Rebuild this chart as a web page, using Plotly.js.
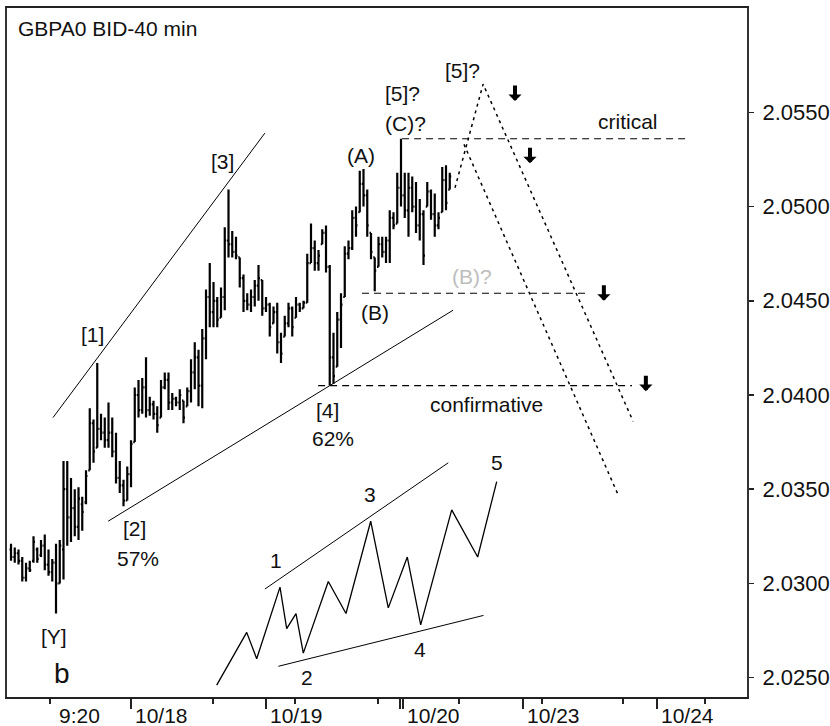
<!DOCTYPE html>
<html><head><meta charset="utf-8">
<script src="https://cdn.plot.ly/plotly-3.0.1.min.js"></script>
<style>html,body{margin:0;padding:0;background:#fff;}#chart{width:830px;height:726px;}</style>
</head><body><div id="chart"></div>
<script>
// 40-minute bars (time in bar units, 10/18 00:00 = 0, one day = 36 bars)
const barTime = [-32,-31,-30,-29,-28,-27,-26,-25,-24,-23,-22,-21,-20,-19,-18,-17,-16,-15,-14,-13,-12,-11,-10,-9,-8,-7,-6,-5,-4,-3,-2,-1,
  0,1,2,3,4,5,6,7,8,9,10,11,12,13,14,15,16,17,18,19,20,21,22,23,24,25,26,27,28,29,30,31,32,33,34,35,36,37,38,39,40,
  41,42,43,44,45,46,47,48,49,50,51,52,53,54,55,56,57,58,59,60,61,62,63,64,65,66,67,68,69,70,71,72,73,74,75,76,77,78,79,80,81,82,83,84,85];
const barOpen = [2.0318,2.0314,2.0316,2.0312,2.0303,2.0308,2.0312,2.0318,2.0315,2.0320,2.0310,2.0306,2.0311,2.0300,2.0318,2.0350,2.0335,2.0340,2.0330,2.0342,2.0343,2.0360,2.0385,2.0372,2.0382,2.0380,2.0376,2.0380,2.0370,2.0356,2.0352,2.0344,
  2.0358,2.0375,2.0400,2.0392,2.0404,2.0392,2.0395,2.0390,2.0388,2.0404,2.0408,2.0396,2.0398,2.0396,2.0397,2.0394,2.0402,2.0412,2.0420,2.0405,2.0430,2.0452,2.0444,2.0450,2.0441,2.0452,2.0482,2.0480,2.0476,2.0473,2.0462,2.0450,2.0448,2.0452,2.0458,2.0461,2.0446,2.0448,2.0438,2.0444,2.0428,
  2.0431,2.0438,2.0446,2.0441,2.0448,2.0446,2.0449,2.0470,2.0478,2.0470,2.0480,2.0486,2.0468,2.0420,2.0415,2.0440,2.0452,2.0475,2.0478,2.0494,2.0497,2.0512,2.0506,2.0486,2.0473,2.0468,2.0480,2.0476,2.0482,2.0494,2.0491,2.0510,2.0506,2.0498,2.0510,2.0500,2.0490,2.0496,2.0500,2.0508,2.0496,2.0490,2.0497,2.0514,2.0509];
const barHigh = [2.0321,2.0319,2.0318,2.0314,2.0311,2.0312,2.0325,2.0319,2.0323,2.0326,2.0318,2.0313,2.0321,2.0323,2.0365,2.0365,2.0356,2.0350,2.0351,2.0346,2.0360,2.0393,2.0387,2.0417,2.0390,2.0388,2.0396,2.0388,2.0380,2.0365,2.0355,2.0362,
  2.0376,2.0404,2.0408,2.0409,2.0420,2.0399,2.0397,2.0394,2.0408,2.0412,2.0412,2.0401,2.0399,2.0403,2.0397,2.0404,2.0419,2.0428,2.0424,2.0435,2.0456,2.0470,2.0460,2.0452,2.0457,2.0489,2.0509,2.0487,2.0484,2.0473,2.0464,2.0454,2.0456,2.0461,2.0469,2.0461,2.0452,2.0449,2.0447,2.0449,2.0433,
  2.0442,2.0449,2.0447,2.0452,2.0449,2.0450,2.0475,2.0491,2.0482,2.0477,2.0488,2.0490,2.0469,2.0433,2.0444,2.0454,2.0479,2.0482,2.0498,2.0500,2.0519,2.0520,2.0509,2.0486,2.0473,2.0484,2.0484,2.0484,2.0498,2.0497,2.0518,2.0536,2.0518,2.0518,2.0516,2.0513,2.0504,2.0498,2.0513,2.0509,2.0507,2.0497,2.0521,2.0522,2.0518];
const barLow = [2.0312,2.0311,2.0310,2.0301,2.0301,2.0306,2.0311,2.0311,2.0314,2.0307,2.0304,2.0301,2.0284,2.0300,2.0302,2.0320,2.0322,2.0325,2.0323,2.0328,2.0342,2.0360,2.0364,2.0372,2.0376,2.0372,2.0372,2.0367,2.0353,2.0348,2.0341,2.0344,
  2.0351,2.0375,2.0388,2.0390,2.0388,2.0389,2.0387,2.0380,2.0388,2.0403,2.0392,2.0392,2.0394,2.0392,2.0385,2.0394,2.0396,2.0403,2.0394,2.0393,2.0419,2.0436,2.0436,2.0436,2.0441,2.0445,2.0473,2.0473,2.0472,2.0457,2.0444,2.0445,2.0444,2.0447,2.0450,2.0442,2.0444,2.0431,2.0438,2.0422,2.0417,
  2.0431,2.0436,2.0431,2.0441,2.0444,2.0446,2.0449,2.0470,2.0466,2.0466,2.0480,2.0465,2.0405,2.0406,2.0415,2.0425,2.0452,2.0472,2.0477,2.0484,2.0497,2.0500,2.0484,2.0472,2.0455,2.0468,2.0473,2.0470,2.0470,2.0488,2.0491,2.0500,2.0494,2.0484,2.0497,2.0486,2.0482,2.0469,2.0500,2.0493,2.0484,2.0488,2.0497,2.0498,2.0509];
const barClose = [2.0314,2.0316,2.0312,2.0303,2.0308,2.0307,2.0322,2.0313,2.0320,2.0310,2.0306,2.0311,2.0300,2.0320,2.0350,2.0335,2.0340,2.0330,2.0345,2.0338,2.0357,2.0385,2.0370,2.0382,2.0380,2.0376,2.0380,2.0370,2.0356,2.0352,2.0344,2.0358,
  2.0374,2.0400,2.0392,2.0404,2.0392,2.0395,2.0390,2.0384,2.0404,2.0408,2.0396,2.0398,2.0396,2.0400,2.0388,2.0402,2.0412,2.0420,2.0405,2.0430,2.0452,2.0444,2.0450,2.0440,2.0452,2.0482,2.0480,2.0476,2.0474,2.0462,2.0450,2.0448,2.0452,2.0458,2.0462,2.0446,2.0448,2.0436,2.0444,2.0428,2.0422,
  2.0438,2.0446,2.0436,2.0448,2.0446,2.0449,2.0470,2.0478,2.0470,2.0474,2.0486,2.0468,2.0420,2.0410,2.0440,2.0448,2.0475,2.0478,2.0494,2.0490,2.0512,2.0506,2.0490,2.0476,2.0466,2.0480,2.0476,2.0482,2.0494,2.0490,2.0510,2.0506,2.0498,2.0510,2.0500,2.0490,2.0496,2.0474,2.0508,2.0496,2.0490,2.0494,2.0514,2.0502,2.0516];

// x axis ticks
const dayTickTimes = [0, 36, 71.7, 72.5, 104.5, 140.3];
const hourTickTimes = [-21.6, 21.9, 43.7, 65.9, 87.5, 109.6, 131.2, 153.1];
const tickLabels = ['9:20', '10/18', '10/19', '10/20', '10/23', '10/24'];
const tickLabelTimes = [-20.4, 0, 36, 72.5, 104.5, 140.3];
const priceTicks = [2.0250, 2.0300, 2.0350, 2.0400, 2.0450, 2.0500, 2.0550];

// trend channel lines
const upperChannelT = [-20.8, 35.7];
const upperChannelP = [2.0388, 2.0539];
const lowerChannelT = [-6.1, 85.9];
const lowerChannelP = [2.0333, 2.0445];

// horizontal levels
const criticalT = [72.3, 149.0];
const criticalP = [2.0536, 2.0536];
const levelBT = [61.6, 122.4];
const levelBP = [2.0454, 2.0454];
const confirmT = [49.9, 133.6];
const confirmP = [2.0405, 2.0405];

// projected paths
const proj1T = [86.4, 93.9, 133.9];
const proj1P = [2.0510, 2.0565, 2.0386];
const proj2T = [88.8, 129.9];
const proj2P = [2.0533, 2.0347];

// ending diagonal schematic
const waveT = [22.85, 30.85, 33.52, 39.73, 41.52, 44.0, 45.95, 52.61, 57.33, 63.92, 68.61, 73.68, 77.25, 85.52, 92.45, 97.52];
const waveP = [2.0246, 2.0274, 2.0260, 2.0298, 2.0276, 2.0284, 2.0263, 2.0301, 2.0284, 2.0333, 2.0287, 2.0314, 2.0278, 2.0339, 2.0314, 2.0354];
const wedgeUpperT = [35.7, 84.6];
const wedgeUpperP = [2.0297, 2.0364];
const wedgeLowerT = [39.3, 94.0];
const wedgeLowerP = [2.0256, 2.0283];

// wave labels
const labelTexts = ['[1]','[3]','[2]','57%','[Y]','[4]','62%','(A)','(B)','(C)?','[5]?','[5]?','critical','confirmative','1','2','3','4','5'];
const labelT = [-10.4, 24.3, 0.8, 1.9, -20.5, 52.3, 53.9, 61.3, 65.1, 73.3, 72.5, 88.3, 132.5, 94.8, 38.7, 46.9, 63.7, 77.1, 97.6];
const labelP = [2.0432, 2.0524, 2.0329, 2.0313, 2.0272, 2.0392, 2.0377, 2.0527, 2.0444, 2.0544, 2.0560, 2.0572, 2.0545, 2.0395, 2.0312, 2.0250, 2.0347, 2.0265, 2.0364];
const grayLabelText = '(B)?';
const grayLabelT = 90.9;
const grayLabelP = 2.0463;
const bigLabelText = 'b';
const bigLabelT = -18.4;
const bigLabelP = 2.0252;

// sell arrows (tip positions)
const arrowT = [102.4, 106.4, 126.1, 137.3];
const arrowP = [2.0556, 2.0523, 2.0450, 2.0402];

const FONT = 'Liberation Sans, Arial, sans-serif';
const INK = '#111';

function line(t, p, width, dash) {
  return {type:'scatter', mode:'lines', x:t, y:p, hoverinfo:'skip', showlegend:false,
          line:{color:'#000', width:width, dash:dash || 'solid'}};
}

const traces = [
  {type:'ohlc', x:barTime, open:barOpen, high:barHigh, low:barLow, close:barClose,
   increasing:{line:{color:'#000', width:2.2}}, decreasing:{line:{color:'#000', width:2.2}},
   tickwidth:0.4, hoverinfo:'skip', showlegend:false},
  line(upperChannelT, upperChannelP, 1),
  line(lowerChannelT, lowerChannelP, 1),
  line(criticalT, criticalP, 1.2, '7px,5px'),
  line(levelBT, levelBP, 1.2, '7px,5px'),
  line(confirmT, confirmP, 1.2, '7px,5px'),
  line(proj1T, proj1P, 1.5, '3px,4px'),
  line(proj2T, proj2P, 1.5, '3px,4px'),
  line(waveT, waveP, 1.3),
  line(wedgeUpperT, wedgeUpperP, 1),
  line(wedgeLowerT, wedgeLowerP, 1)
];

const annotations = [];
labelTexts.forEach((txt, i) => {
  annotations.push({x:labelT[i], y:labelP[i], xref:'x', yref:'y', text:txt, showarrow:false,
    xanchor:'center', yanchor:'middle', font:{family:FONT, size:21, color:INK}});
});
annotations.push({x:grayLabelT, y:grayLabelP, xref:'x', yref:'y', text:grayLabelText, showarrow:false,
  font:{family:FONT, size:21, color:'#bdbdbd'}});
annotations.push({x:bigLabelT, y:bigLabelP, xref:'x', yref:'y', text:bigLabelText, showarrow:false,
  font:{family:FONT, size:28, color:INK}});
arrowT.forEach((t, i) => {
  annotations.push({x:t, y:arrowP[i], xref:'x', yref:'y', text:'', showarrow:true,
    arrowhead:1, arrowsize:0.55, arrowwidth:4, arrowcolor:'#000', ax:0, ay:-17, standoff:0});
});
tickLabels.forEach((txt, i) => {
  annotations.push({x:tickLabelTimes[i], y:0, xref:'x', yref:'paper', text:txt, showarrow:false,
    xanchor:'left', yanchor:'middle', yshift:-18, xshift:2, font:{family:FONT, size:21, color:INK}});
});

const layout = {
  width:830, height:726,
  margin:{l:7, r:83, t:8, b:29, pad:0},
  paper_bgcolor:'#fff', plot_bgcolor:'#fff',
  showlegend:false,
  title:{text:'GBPA0 BID-40 min', font:{family:FONT, size:21, color:INK},
         xref:'paper', x:0.0149, xanchor:'left', yref:'paper', y:0.9695, yanchor:'middle'},
  xaxis:{range:[-33.07, 164.27], showgrid:false, zeroline:false, fixedrange:true,
         showline:true, mirror:true, linecolor:'#222', linewidth:2,
         tickmode:'array', tickvals:dayTickTimes, ticks:'outside', ticklen:10, tickwidth:1.5, tickcolor:'#222',
         showticklabels:false,
         minor:{tickmode:'array', tickvals:hourTickTimes, ticks:'outside', ticklen:5, tickwidth:1.5, tickcolor:'#222', showgrid:false},
         rangeslider:{visible:false}},
  yaxis:{range:[2.02397, 2.06054], side:'right', showgrid:false, zeroline:false, fixedrange:true,
         showline:true, mirror:true, linecolor:'#333', linewidth:2,
         tickmode:'array', tickvals:priceTicks, tickformat:'.4f', ticks:'outside', ticklen:5, tickwidth:1.5, tickcolor:'#222',
         ticklabelstandoff:4,
         tickfont:{family:FONT, size:22, color:INK}},
  annotations:annotations
};

Plotly.newPlot('chart', traces, layout, {staticPlot:true, displayModeBar:false});
</script>
</body></html>
